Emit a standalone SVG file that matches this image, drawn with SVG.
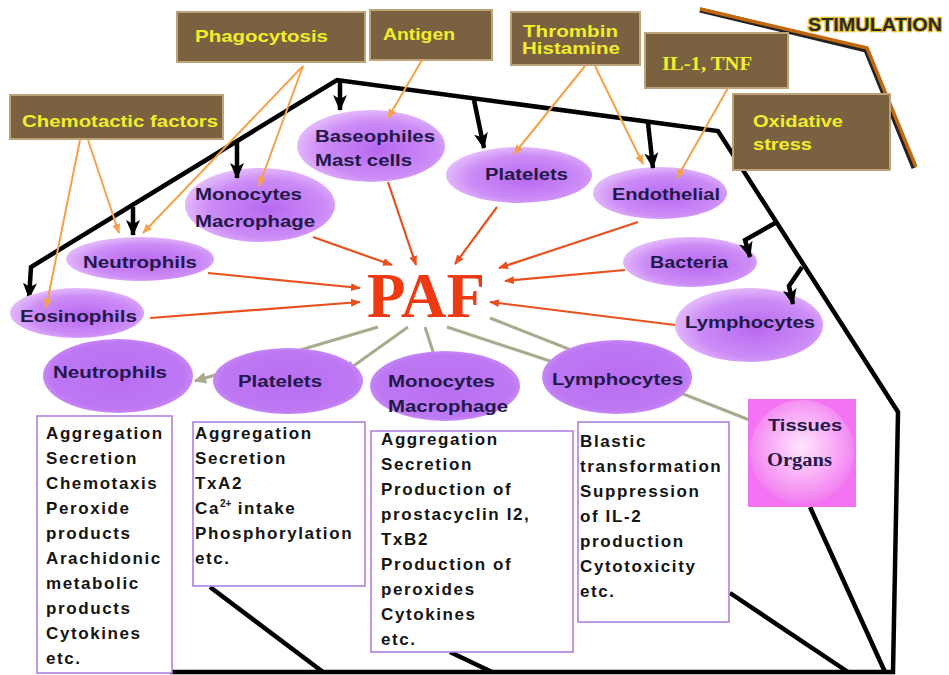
<svg xmlns="http://www.w3.org/2000/svg" width="949" height="675" viewBox="0 0 949 675">
<defs>
<style>
.box{fill:#7a6240;stroke:#bda27a;stroke-width:2}
.yt{font-family:"Liberation Sans",Arial,sans-serif;font-weight:bold;font-size:17px;fill:#f2ee2c}
.ys{font-family:"Liberation Serif","Times New Roman",serif;font-weight:bold;font-size:19px;fill:#f2ee2c}
.et{font-family:"Liberation Sans",Arial,sans-serif;font-weight:bold;font-size:16px;fill:#22184a}
.es{font-family:"Liberation Serif","Times New Roman",serif;font-weight:bold;font-size:18px;fill:#22184a}
.tb{fill:#fff;stroke:#b07fe0;stroke-width:1.6}
.bt{font-family:"Liberation Sans",Arial,sans-serif;font-weight:bold;font-size:17px;letter-spacing:1.6px;fill:#141414}
.blk{fill:none;stroke:#000;stroke-width:4.5;stroke-linejoin:miter}
.red{fill:none;stroke:#e8501e;stroke-width:2.2;marker-end:url(#mRed)}
.gry{fill:none;stroke:#a9aa8e;stroke-width:3}
.org{fill:none;stroke:#f4a24a;stroke-width:2;marker-end:url(#mOrg)}
.e1{fill:url(#eg1)}
.e2{fill:url(#eg2)}
</style>
<radialGradient id="eg1" cx="55%" cy="55%" r="60%">
<stop offset="0" stop-color="#b868f0"/>
<stop offset="0.65" stop-color="#cc8cf6"/>
<stop offset="1" stop-color="#e9c4fc"/>
</radialGradient>
<radialGradient id="eg2" cx="50%" cy="50%" r="60%">
<stop offset="0" stop-color="#b86ef2"/>
<stop offset="0.75" stop-color="#be78f3"/>
<stop offset="1" stop-color="#d8a8f8"/>
</radialGradient>
<radialGradient id="cg" cx="50%" cy="45%" r="55%">
<stop offset="0" stop-color="#fde6fc"/>
<stop offset="0.6" stop-color="#f8a8f6"/>
<stop offset="1" stop-color="#f17cf0"/>
</radialGradient>
<marker id="mBlk" markerUnits="userSpaceOnUse" markerWidth="16" markerHeight="16" viewBox="0 0 16 16" refX="15" refY="8" orient="auto">
<path d="M0,1 L16,8 L0,15 L4,8 Z" fill="#000"/>
</marker>
<marker id="mRed" markerUnits="userSpaceOnUse" markerWidth="10" markerHeight="10" viewBox="0 0 10 10" refX="9" refY="5" orient="auto">
<path d="M0,1 L10,5 L0,9 Z" fill="#e8501e"/>
</marker>
<marker id="mGry" markerUnits="userSpaceOnUse" markerWidth="12" markerHeight="12" viewBox="0 0 12 12" refX="11" refY="6" orient="auto">
<path d="M0,0 L12,6 L0,12 Z" fill="#a9aa8e"/>
</marker>
<marker id="mOrg" markerUnits="userSpaceOnUse" markerWidth="10" markerHeight="10" viewBox="0 0 10 10" refX="9" refY="5" orient="auto">
<path d="M0,1 L10,5 L0,9 Z" fill="#f4a24a"/>
</marker>
</defs>
<rect width="949" height="675" fill="#fff"/>

<g id="connectors-under">
<path class="gry" d="M378,327 L195,381" marker-end="url(#mGry)"/>
<path class="gry" d="M408,327 L345,372" marker-end="url(#mGry)"/>
<path class="gry" d="M425,327 L439,370" marker-end="url(#mGry)"/>
<path class="gry" d="M447,327 L568,367" marker-end="url(#mGry)"/>
<path class="gry" d="M490,318 L752,421"/>
</g>

<g id="stimulation">
<path d="M700,10 L866,50 L914,168" fill="none" stroke="#222" stroke-width="5"/>
<path d="M700,9 L867,48 L916,167" fill="none" stroke="#c2680e" stroke-width="3.5"/>
<text x="808" y="31" textLength="134" lengthAdjust="spacingAndGlyphs" font-family="Liberation Sans, Arial, sans-serif" font-weight="bold" font-size="19" fill="#2a2a2a" stroke="#e8c030" stroke-width="2.5" paint-order="stroke">STIMULATION</text>
</g>

<g id="frame">
<path class="blk" d="M170,672 L893,672 L898,412 L718,131 L337,80 L31,267 L29,298" marker-end="url(#mBlk)"/>
<path class="blk" d="M210,587 L323,672"/>
<path class="blk" d="M450,652 L492,672"/>
<path class="blk" d="M730,593 L848,672"/>
<path class="blk" d="M810,507 L885,672"/>
</g>

<g id="n-phagocytosis"><rect class="box" x="177" y="12" width="188" height="50"/><text class="yt" x="195" y="42" textLength="133" lengthAdjust="spacingAndGlyphs">Phagocytosis</text></g>
<g id="n-antigen"><rect class="box" x="370" y="10" width="122" height="50"/><text class="yt" x="383" y="40" textLength="72" lengthAdjust="spacingAndGlyphs">Antigen</text></g>
<g id="n-thrombin"><rect class="box" x="511" y="12" width="129" height="53"/><text class="yt" x="523" y="36.5" font-size="15" textLength="95" lengthAdjust="spacingAndGlyphs">Thrombin</text><text class="yt" x="522" y="54" font-size="15" textLength="98" lengthAdjust="spacingAndGlyphs">Histamine</text></g>
<g id="n-il1"><rect class="box" x="645" y="33" width="143" height="55"/><text class="ys" x="662" y="70" textLength="90" lengthAdjust="spacingAndGlyphs">IL-1, TNF</text></g>
<g id="n-oxidative"><rect class="box" x="733" y="94" width="157" height="76"/><text class="yt" x="753" y="127" textLength="90" lengthAdjust="spacingAndGlyphs">Oxidative</text><text class="yt" x="753" y="150" textLength="59" lengthAdjust="spacingAndGlyphs">stress</text></g>
<g id="n-chemotactic"><rect class="box" x="10" y="95" width="213" height="44"/><text class="yt" x="22" y="127" textLength="196" lengthAdjust="spacingAndGlyphs">Chemotactic factors</text></g>

<g id="n-baseophiles"><ellipse class="e1" cx="371" cy="146" rx="74" ry="36"/><text class="et" x="315" y="142" textLength="120" lengthAdjust="spacingAndGlyphs">Baseophiles</text><text class="et" x="315" y="166" textLength="97" lengthAdjust="spacingAndGlyphs">Mast cells</text></g>
<g id="n-monocytes-up"><ellipse class="e1" cx="260" cy="205" rx="75" ry="37"/><text class="et" x="195" y="200" textLength="107" lengthAdjust="spacingAndGlyphs">Monocytes</text><text class="et" x="195" y="227" textLength="120" lengthAdjust="spacingAndGlyphs">Macrophage</text></g>
<g id="n-platelets-up"><ellipse class="e1" cx="519" cy="175" rx="73" ry="28"/><text class="et" x="485" y="180" textLength="83" lengthAdjust="spacingAndGlyphs">Platelets</text></g>
<g id="n-endothelial"><ellipse class="e1" cx="660" cy="193" rx="67" ry="26"/><text class="et" x="612" y="200" textLength="108" lengthAdjust="spacingAndGlyphs">Endothelial</text></g>
<g id="n-neutrophils-up"><ellipse class="e1" cx="140" cy="259" rx="74" ry="22"/><text class="et" x="83" y="268" textLength="114" lengthAdjust="spacingAndGlyphs">Neutrophils</text></g>
<g id="n-eosinophils"><ellipse class="e1" cx="77" cy="313" rx="67" ry="25"/><text class="et" x="20" y="322" textLength="117" lengthAdjust="spacingAndGlyphs">Eosinophils</text></g>
<g id="n-bacteria"><ellipse class="e1" cx="690" cy="262" rx="67" ry="25"/><text class="et" x="650" y="268" textLength="78" lengthAdjust="spacingAndGlyphs">Bacteria</text></g>
<g id="n-lymphocytes-up"><ellipse class="e1" cx="749" cy="325" rx="74" ry="37"/><text class="et" x="685" y="328" textLength="130" lengthAdjust="spacingAndGlyphs">Lymphocytes</text></g>

<g id="n-paf"><text x="367" y="317" textLength="118" lengthAdjust="spacingAndGlyphs" font-family="Liberation Serif, Times New Roman, serif" font-weight="bold" font-size="64" fill="#ee3a12">PAF</text></g>

<g id="n-neutrophils-low"><ellipse class="e2" cx="118" cy="376" rx="75" ry="37"/><text class="et" x="53" y="378" textLength="114" lengthAdjust="spacingAndGlyphs">Neutrophils</text></g>
<g id="n-platelets-low"><ellipse class="e2" cx="288" cy="381" rx="75" ry="33"/><text class="et" x="238" y="387" textLength="84" lengthAdjust="spacingAndGlyphs">Platelets</text></g>
<g id="n-monocytes-low"><ellipse class="e2" cx="445" cy="386" rx="75" ry="35"/><text class="et" x="388" y="387" textLength="107" lengthAdjust="spacingAndGlyphs">Monocytes</text><text class="et" x="388" y="412" textLength="120" lengthAdjust="spacingAndGlyphs">Macrophage</text></g>
<g id="n-lymphocytes-low"><ellipse class="e2" cx="617" cy="377" rx="75" ry="37"/><text class="et" x="552" y="385" textLength="131" lengthAdjust="spacingAndGlyphs">Lymphocytes</text></g>
<g id="n-tissues"><rect x="748" y="399" width="108" height="108" fill="#f373f2"/><circle cx="802" cy="452" r="52" fill="url(#cg)"/><text class="et" x="768" y="431" textLength="74" lengthAdjust="spacingAndGlyphs">Tissues</text><text class="es" x="767" y="466" textLength="65" lengthAdjust="spacingAndGlyphs">Organs</text></g>

<g id="n-box-neutrophils"><rect class="tb" x="37" y="416" width="135" height="257"/>
<text class="bt" x="46" y="439">Aggregation</text>
<text class="bt" x="46" y="464">Secretion</text>
<text class="bt" x="46" y="489">Chemotaxis</text>
<text class="bt" x="46" y="514">Peroxide</text>
<text class="bt" x="46" y="539">products</text>
<text class="bt" x="46" y="564">Arachidonic</text>
<text class="bt" x="46" y="589">metabolic</text>
<text class="bt" x="46" y="614">products</text>
<text class="bt" x="46" y="639">Cytokines</text>
<text class="bt" x="46" y="664">etc.</text>
</g>
<g id="n-box-platelets"><rect class="tb" x="193" y="422" width="172" height="164"/>
<text class="bt" x="195" y="439">Aggregation</text>
<text class="bt" x="195" y="464">Secretion</text>
<text class="bt" x="195" y="489">TxA2</text>
<text class="bt" x="195" y="514">Ca<tspan font-size="10" dy="-7" letter-spacing="0">2+</tspan><tspan dy="7"> intake</tspan></text>
<text class="bt" x="195" y="539">Phosphorylation</text>
<text class="bt" x="195" y="564">etc.</text>
</g>
<g id="n-box-monocytes"><rect class="tb" x="371" y="431" width="202" height="221"/>
<text class="bt" x="381" y="445">Aggregation</text>
<text class="bt" x="381" y="470">Secretion</text>
<text class="bt" x="381" y="495">Production of</text>
<text class="bt" x="381" y="520">prostacyclin I2,</text>
<text class="bt" x="381" y="545">TxB2</text>
<text class="bt" x="381" y="570">Production of</text>
<text class="bt" x="381" y="595">peroxides</text>
<text class="bt" x="381" y="620">Cytokines</text>
<text class="bt" x="381" y="645">etc.</text>
</g>
<g id="n-box-lymphocytes"><rect class="tb" x="578" y="422" width="151" height="200"/>
<text class="bt" x="580" y="447">Blastic</text>
<text class="bt" x="580" y="472">transformation</text>
<text class="bt" x="580" y="497">Suppression</text>
<text class="bt" x="580" y="522">of IL-2</text>
<text class="bt" x="580" y="547">production</text>
<text class="bt" x="580" y="572">Cytotoxicity</text>
<text class="bt" x="580" y="597">etc.</text>
</g>

<g id="connectors">
<path class="red" d="M313,237 L392,265"/>
<path class="red" d="M388,182 L416,265"/>
<path class="red" d="M497,207 L455,264"/>
<path class="red" d="M638,222 L499,268"/>
<path class="red" d="M625,270 L505,281"/>
<path class="red" d="M675,325 L490,302"/>
<path class="red" d="M208,273 L360,288"/>
<path class="red" d="M150,318 L360,302"/>
<path class="org" d="M303,66 L259,186"/>
<path class="org" d="M303,66 L143,233"/>
<path class="org" d="M88,140 L119,233"/>
<path class="org" d="M80,140 L46,308"/>
<path class="org" d="M422,60 L388,118"/>
<path class="org" d="M585,66 L514,154"/>
<path class="org" d="M595,66 L643,164"/>
<path class="org" d="M728,88 L677,178"/>
<path class="blk" d="M340,80 L340,110" marker-end="url(#mBlk)"/>
<path class="blk" d="M237,142 L237,178" marker-end="url(#mBlk)"/>
<path class="blk" d="M133,207 L133,235" marker-end="url(#mBlk)"/>
<path class="blk" d="M474,100 L484,148" marker-end="url(#mBlk)"/>
<path class="blk" d="M648,123 L653,168" marker-end="url(#mBlk)"/>
<path class="blk" d="M777,222 L745,240 L750,257" marker-end="url(#mBlk)"/>
<path class="blk" d="M802,267 L789,286 L793,304" marker-end="url(#mBlk)"/>
</g>
</svg>
